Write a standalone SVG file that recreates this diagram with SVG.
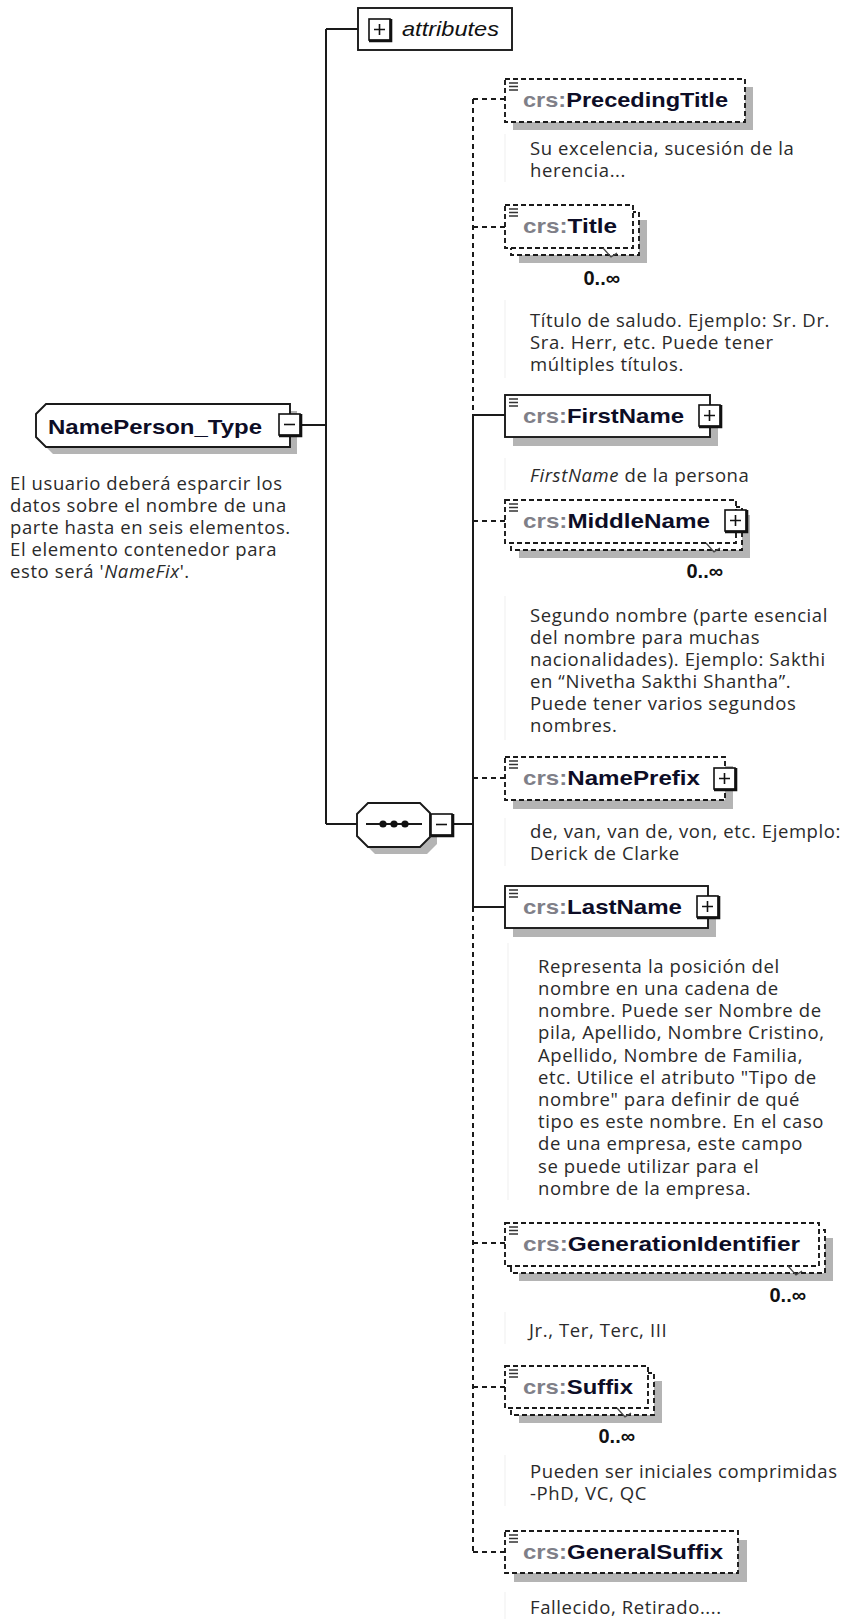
<svg xmlns="http://www.w3.org/2000/svg" xmlns:xlink="http://www.w3.org/1999/xlink" width="849" height="1619" viewBox="0 0 849 1619">
<style>
.ln{stroke:#1a1a1a;stroke-width:2;fill:none}
.dl{stroke:#1a1a1a;stroke-width:2;fill:none;stroke-dasharray:5 4}
.box{fill:#fff;stroke:#1a1a1a;stroke-width:1.9}
.opt{fill:#fff;stroke:#1a1a1a;stroke-width:1.9;stroke-dasharray:5 3}
.sh{fill:#b4b4b4}
.ic{stroke:#333;stroke-width:1.4;fill:none}
.tk{stroke:#444;stroke-width:1.3;fill:none}
.fl{stroke:#f4f4f4;stroke-width:1.5;fill:none}
.lbl{font-family:'Liberation Sans',Arial,sans-serif;font-size:21px;font-weight:bold;fill:#0d0d26}
.pfx{fill:#7f7f88}
.att{font-family:'Liberation Sans',Arial,sans-serif;font-size:21px;font-style:italic;fill:#111}
.occ{font-family:'Liberation Sans',Arial,sans-serif;font-size:20px;font-weight:bold;fill:#111}
.desc{font-family:'Open Sans','DejaVu Sans',sans-serif;font-size:18.5px;letter-spacing:0.6px;fill:#2a2a2a}
.it{font-style:italic}
</style>
<defs>
<g id="plusIcon">
<rect x="-11" y="-11" width="21" height="21" fill="#fff" stroke="#111" stroke-width="1.6"/>
<path d="M-11,11 H11 V-11" stroke="#111" stroke-width="2.6" fill="none"/>
<path d="M-6,-0.5 H5 M-0.5,-6 V5" stroke="#111" stroke-width="1.6" fill="none"/>
</g>
<g id="minusIcon">
<rect x="-11" y="-11" width="21" height="21" fill="#fff" stroke="#111" stroke-width="1.6"/>
<path d="M-11,11 H11 V-11" stroke="#111" stroke-width="2.6" fill="none"/>
<path d="M-6,-0.5 H5" stroke="#111" stroke-width="1.6" fill="none"/>
</g>
</defs>
<rect width="849" height="1619" fill="#fff"/>

<g id="connectors">
<path class="ln" d="M326,29 V824 M326,29 H358 M302,425 H326 M326,824 H357 M454,824 H473 M473,415 V907 M473,415 H505 M473,907 H505"/>
<path class="dl" d="M473,99 V415 M473,907 V1552 M473,99 H505 M473,227 H505 M473,521 H505 M473,778 H505 M473,1243 H505 M473,1387 H505 M473,1552 H505"/>
</g>

<g id="attributes">
<rect class="box" x="358" y="8" width="154" height="42"/>
<use xlink:href="#plusIcon" x="380" y="30"/>
<text class="att" x="402" y="36" textLength="97" lengthAdjust="spacingAndGlyphs">attributes</text>
</g>

<g id="NamePerson_Type">
<path class="sh" d="M53,411 H297 V454 H53 L43,444 V421 Z"/>
<path class="box" d="M46,404 H290 V447 H46 L36,437 V414 Z"/>
<use xlink:href="#minusIcon" x="290" y="425"/>
<text class="lbl" x="48" y="434" textLength="214" lengthAdjust="spacingAndGlyphs">NamePerson_Type</text>
<text class="desc" x="10" y="490">El usuario deberá esparcir los</text>
<text class="desc" x="10" y="512">datos sobre el nombre de una</text>
<text class="desc" x="10" y="534">parte hasta en seis elementos.</text>
<text class="desc" x="10" y="556">El elemento contenedor para</text>
<text class="desc" x="10" y="578">esto será '<tspan class="it">NameFix</tspan>'.</text>
</g>

<g id="sequence">
<path class="sh" d="M375,810 H427 L437,820 V844 L427,854 H375 L364,843 V821 Z"/>
<path class="box" d="M368,803 H420 L430,813 V837 L420,847 H368 L357,836 V814 Z"/>
<path class="ln" d="M366,824 H422" stroke-width="1.6"/>
<circle cx="383" cy="824" r="3.6" fill="#111"/>
<circle cx="394" cy="824" r="3.6" fill="#111"/>
<circle cx="405" cy="824" r="3.6" fill="#111"/>
<use xlink:href="#minusIcon" x="442" y="825"/>
</g>

<g id="PrecedingTitle">
<rect class="sh" x="513" y="87" width="240" height="43"/>
<rect class="opt" x="505" y="79" width="240" height="43"/>
<path class="ic" d="M509,83 H518 M509,86.5 H518 M509,90 H518"/>
<text class="lbl" x="523" y="107" textLength="205" lengthAdjust="spacingAndGlyphs"><tspan class="pfx">crs:</tspan>PrecedingTitle</text>
<path class="fl" d="M505,134 V182"/>
<text class="desc" x="530" y="155">Su excelencia, sucesión de la</text>
<text class="desc" x="530" y="177">herencia...</text>
</g>

<g id="Title">
<rect class="sh" x="519" y="220" width="128" height="43"/>
<rect class="opt" x="511" y="212" width="128" height="43"/>
<rect class="opt" x="505" y="205" width="128" height="43"/>
<path class="ic" d="M509,209 H518 M509,212.5 H518 M509,216 H518"/>
<text class="lbl" x="523" y="233" textLength="94" lengthAdjust="spacingAndGlyphs"><tspan class="pfx">crs:</tspan>Title</text>
<path class="tk" d="M603,248 l8,9 l6,-4"/>
<text class="occ" x="620" y="285" text-anchor="end">0..∞</text>
<path class="fl" d="M505,300 V378"/>
<text class="desc" x="530" y="327">Título de saludo. Ejemplo: Sr. Dr.</text>
<text class="desc" x="530" y="349">Sra. Herr, etc. Puede tener</text>
<text class="desc" x="530" y="371">múltiples títulos.</text>
</g>

<g id="FirstName">
<rect class="sh" x="513" y="404" width="205" height="42"/>
<rect class="box" x="505" y="395" width="205" height="42"/>
<path class="ic" d="M509,399 H518 M509,402.5 H518 M509,406 H518"/>
<text class="lbl" x="523" y="423" textLength="161" lengthAdjust="spacingAndGlyphs"><tspan class="pfx">crs:</tspan>FirstName</text>
<use xlink:href="#plusIcon" x="710" y="416"/>
<path class="fl" d="M505,458 V490"/>
<text class="desc" x="530" y="482"><tspan class="it">FirstName</tspan> de la persona</text>
</g>

<g id="MiddleName">
<rect class="sh" x="519" y="515" width="231" height="43"/>
<rect class="opt" x="511" y="507" width="231" height="43"/>
<rect class="opt" x="505" y="500" width="231" height="43"/>
<path class="ic" d="M509,504 H518 M509,507.5 H518 M509,511 H518"/>
<text class="lbl" x="523" y="528" textLength="187" lengthAdjust="spacingAndGlyphs"><tspan class="pfx">crs:</tspan>MiddleName</text>
<use xlink:href="#plusIcon" x="736" y="521"/>
<path class="tk" d="M706,543 l8,9 l6,-4"/>
<text class="occ" x="723" y="578" text-anchor="end">0..∞</text>
<path class="fl" d="M505,596 V740"/>
<text class="desc" x="530" y="622">Segundo nombre (parte esencial</text>
<text class="desc" x="530" y="644">del nombre para muchas</text>
<text class="desc" x="530" y="666">nacionalidades). Ejemplo: Sakthi</text>
<text class="desc" x="530" y="688">en “Nivetha Sakthi Shantha”.</text>
<text class="desc" x="530" y="710">Puede tener varios segundos</text>
<text class="desc" x="530" y="732">nombres.</text>
</g>

<g id="NamePrefix">
<rect class="sh" x="513" y="766" width="220" height="43"/>
<rect class="opt" x="505" y="757" width="220" height="43"/>
<path class="ic" d="M509,761 H518 M509,764.5 H518 M509,768 H518"/>
<text class="lbl" x="523" y="785" textLength="177" lengthAdjust="spacingAndGlyphs"><tspan class="pfx">crs:</tspan>NamePrefix</text>
<use xlink:href="#plusIcon" x="725" y="779"/>
<path class="fl" d="M505,818 V866"/>
<text class="desc" x="530" y="838">de, van, van de, von, etc. Ejemplo:</text>
<text class="desc" x="530" y="860">Derick de Clarke</text>
</g>

<g id="LastName">
<rect class="sh" x="513" y="895" width="203" height="42"/>
<rect class="box" x="505" y="886" width="203" height="42"/>
<path class="ic" d="M509,890 H518 M509,893.5 H518 M509,897 H518"/>
<text class="lbl" x="523" y="914" textLength="159" lengthAdjust="spacingAndGlyphs"><tspan class="pfx">crs:</tspan>LastName</text>
<use xlink:href="#plusIcon" x="708" y="907"/>
<path class="fl" d="M508,943 V1200"/>
<text class="desc" x="538" y="973">Representa la posición del</text>
<text class="desc" x="538" y="995">nombre en una cadena de</text>
<text class="desc" x="538" y="1017">nombre. Puede ser Nombre de</text>
<text class="desc" x="538" y="1039">pila, Apellido, Nombre Cristino,</text>
<text class="desc" x="538" y="1062">Apellido, Nombre de Familia,</text>
<text class="desc" x="538" y="1084">etc. Utilice el atributo "Tipo de</text>
<text class="desc" x="538" y="1106">nombre" para definir de qué</text>
<text class="desc" x="538" y="1128">tipo es este nombre. En el caso</text>
<text class="desc" x="538" y="1150">de una empresa, este campo</text>
<text class="desc" x="538" y="1173">se puede utilizar para el</text>
<text class="desc" x="538" y="1195">nombre de la empresa.</text>
</g>

<g id="GenerationIdentifier">
<rect class="sh" x="519" y="1238" width="314" height="43"/>
<rect class="opt" x="511" y="1230" width="314" height="43"/>
<rect class="opt" x="505" y="1223" width="314" height="43"/>
<path class="ic" d="M509,1227 H518 M509,1230.5 H518 M509,1234 H518"/>
<text class="lbl" x="523" y="1251" textLength="277" lengthAdjust="spacingAndGlyphs"><tspan class="pfx">crs:</tspan>GenerationIdentifier</text>
<path class="tk" d="M788,1266 l8,9 l6,-4"/>
<text class="occ" x="806" y="1302" text-anchor="end">0..∞</text>
<path class="fl" d="M505,1312 V1344"/>
<text class="desc" x="529" y="1337">Jr., Ter, Terc, III</text>
</g>

<g id="Suffix">
<rect class="sh" x="519" y="1381" width="143" height="42"/>
<rect class="opt" x="511" y="1373" width="143" height="42"/>
<rect class="opt" x="505" y="1366" width="143" height="42"/>
<path class="ic" d="M509,1370 H518 M509,1373.5 H518 M509,1377 H518"/>
<text class="lbl" x="523" y="1394" textLength="110" lengthAdjust="spacingAndGlyphs"><tspan class="pfx">crs:</tspan>Suffix</text>
<path class="tk" d="M617,1408 l8,9 l6,-4"/>
<text class="occ" x="635" y="1443" text-anchor="end">0..∞</text>
<path class="fl" d="M505,1455 V1506"/>
<text class="desc" x="530" y="1478">Pueden ser iniciales comprimidas</text>
<text class="desc" x="530" y="1500">-PhD, VC, QC</text>
</g>

<g id="GeneralSuffix">
<rect class="sh" x="514" y="1540" width="233" height="42"/>
<rect class="opt" x="505" y="1531" width="233" height="42"/>
<path class="ic" d="M509,1535 H518 M509,1538.5 H518 M509,1542 H518"/>
<text class="lbl" x="523" y="1559" textLength="200" lengthAdjust="spacingAndGlyphs"><tspan class="pfx">crs:</tspan>GeneralSuffix</text>
<path class="fl" d="M505,1592 V1619"/>
<text class="desc" x="530" y="1614">Fallecido, Retirado....</text>
</g>
</svg>
